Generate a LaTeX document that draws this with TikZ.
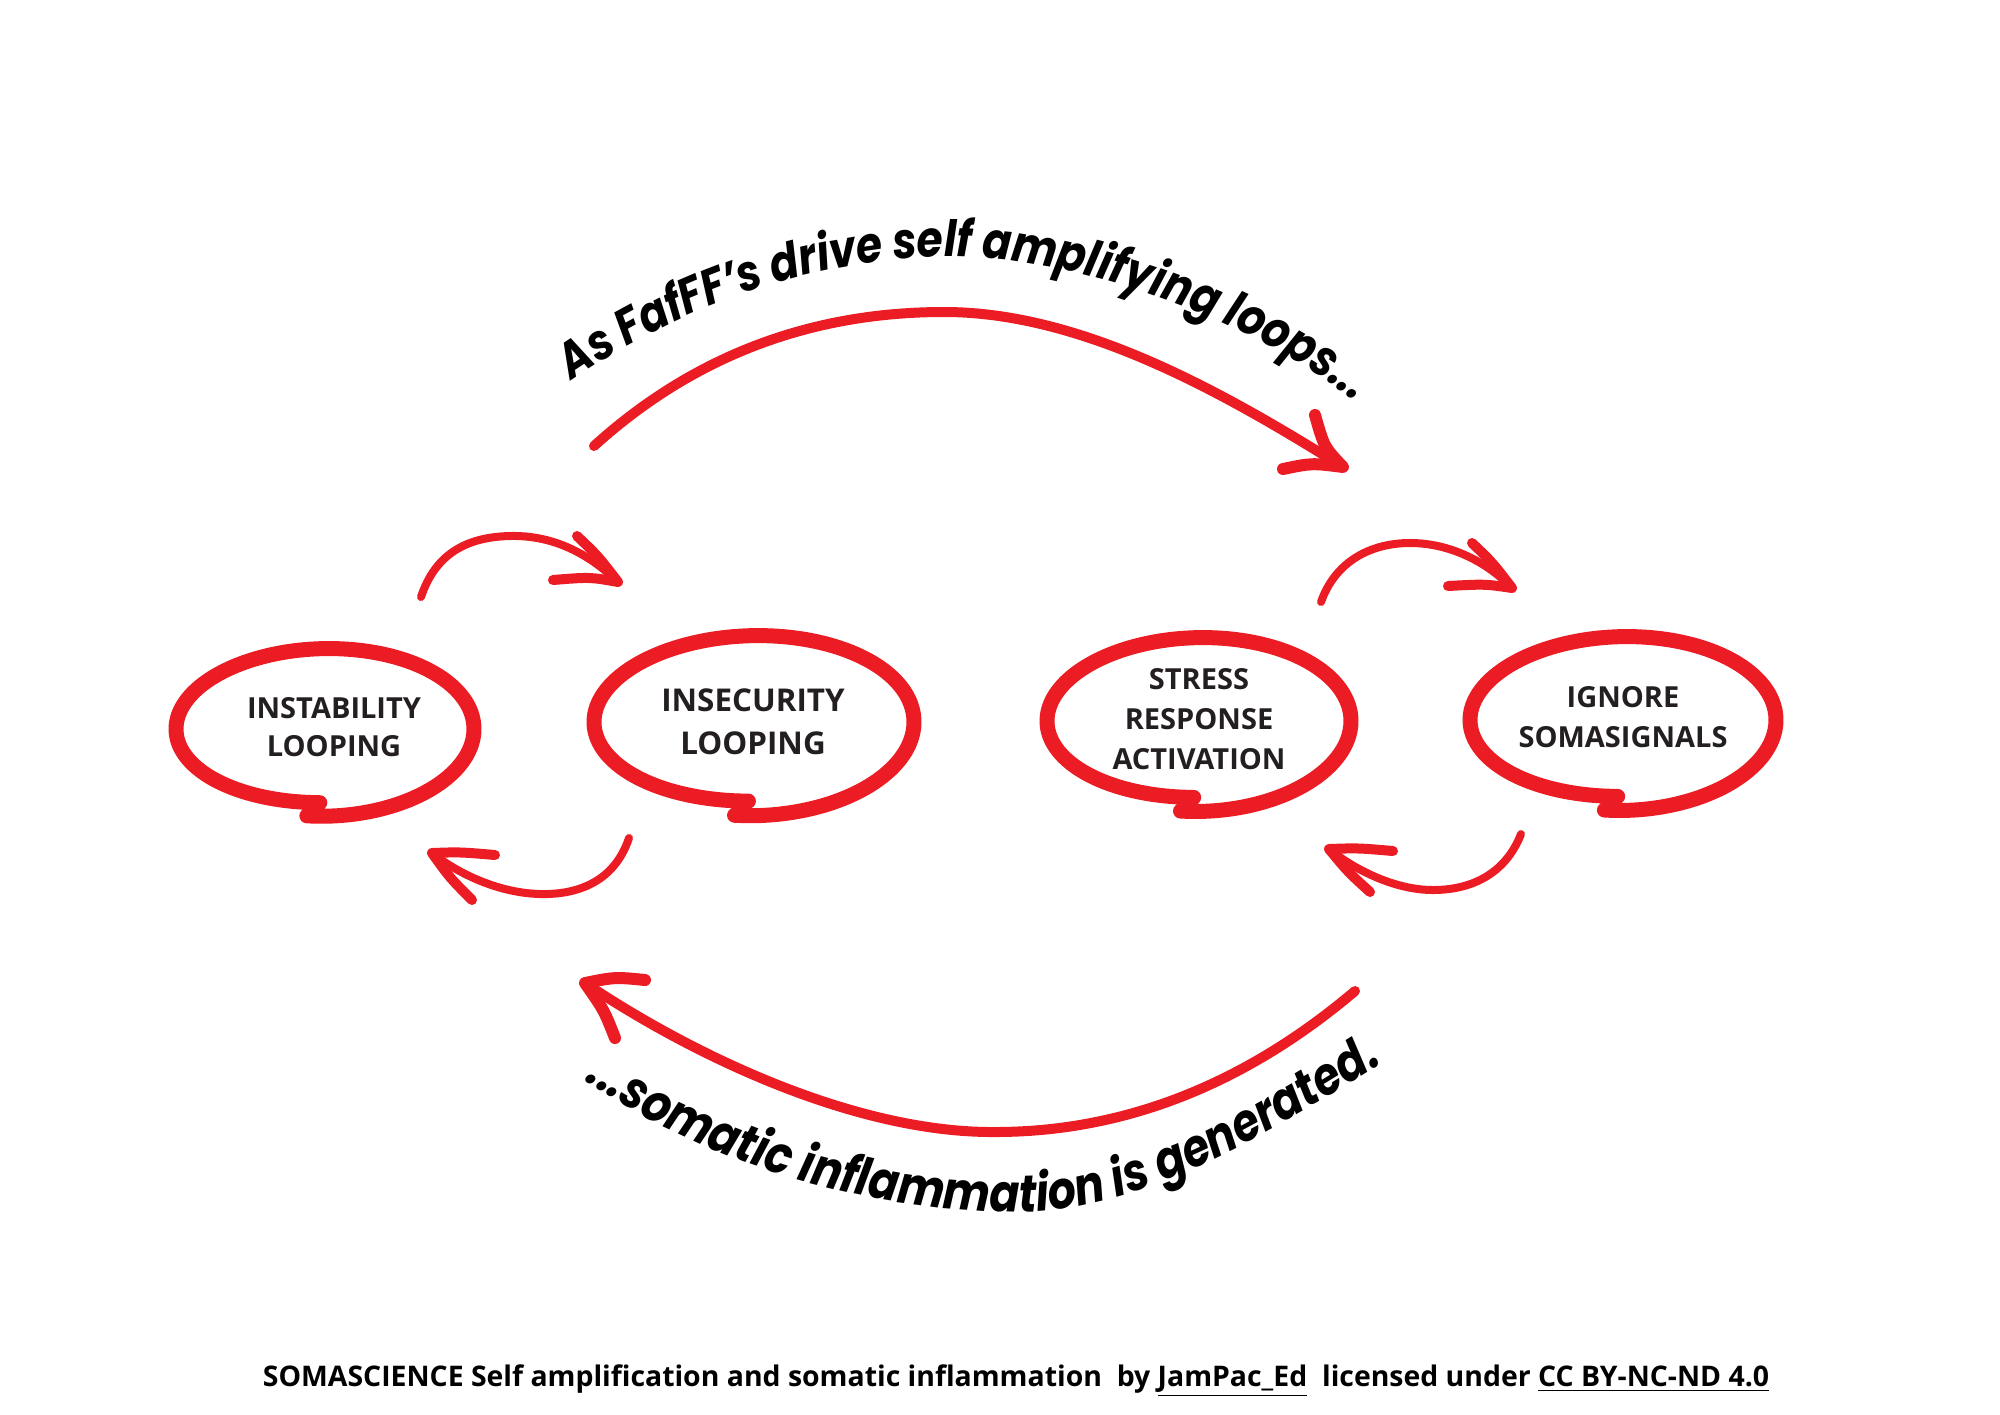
\documentclass[tikz,border=0pt]{standalone}
\usepackage{fontspec}
\setmainfont{Open Sans}
\newfontfamily\arcfont{Poppins}[FakeStretch=0.85]
\usetikzlibrary{decorations.text}
\definecolor{loopred}{RGB}{236,28,36}
\definecolor{labelgray}{RGB}{35,31,32}

\begin{document}
\begin{tikzpicture}[x=0.5pt,y=0.5pt,
	ring/.style={loopred,line width=7.5pt,line cap=round},
	bigshaft/.style={loopred,line width=5pt,line cap=round},
	smallshaft/.style={loopred,line width=4pt,line cap=round},
	bigbarb/.style={loopred,line width=6pt,line cap=round,line join=round},
	smallbarb/.style={loopred,line width=5pt,line cap=round,line join=round},
	looplabel/.style={text=labelgray,align=center,font=\bfseries\fontsize{14.5}{20}\selectfont}]
				\useasboundingbox (0,0) rectangle (2000,-1414);

				\draw[ring] plot[smooth,domain=-97:268,samples=90,variable=\t] ({325+149*cos(\t)},{-729+81*(1.08-0.17*(\t+97)/365)*sin(\t)});
				\draw[ring] plot[smooth,domain=-97:268,samples=90,variable=\t] ({754+160*cos(\t)},{-722+87*(1.08-0.17*(\t+97)/365)*sin(\t)});
				\draw[ring] plot[smooth,domain=-97:268,samples=90,variable=\t] ({1199+152*cos(\t)},{-721+84*(1.08-0.17*(\t+97)/365)*sin(\t)});
				\draw[ring] plot[smooth,domain=-97:268,samples=90,variable=\t] ({1623+153*cos(\t)},{-720+84*(1.08-0.17*(\t+97)/365)*sin(\t)});

				\node[looplabel,font=\bfseries\fontsize{14.5}{19}\selectfont] (instab) at (334,-727) {INSTABILITY\\LOOPING};
				\node[looplabel,font=\bfseries\fontsize{15.7}{21.7}\selectfont] (insec) at (753,-722) {INSECURITY\\LOOPING};
				\node[looplabel] (stress) at (1199,-719) {STRESS\\RESPONSE\\ACTIVATION};
				\node[looplabel] (ignore) at (1623,-717) {IGNORE\\SOMASIGNALS};

				\coordinate (bigs) at (594,-446);
				\coordinate (bige) at (1343,-467);
				\draw[bigshaft] (bigs) .. controls (700,-350) and (820,-312) .. (944,-312) .. controls (1080,-312) and (1220,-390) .. (bige);
				\draw[bigbarb] (1283,-469) .. controls (1312,-463) .. (bige) .. controls (1324,-447) .. (1315,-415);

				\coordinate (bots) at (1355,-991);
				\coordinate (bote) at (585,-983);
				\draw[bigshaft] (bots) .. controls (1250,-1080) and (1130,-1132) .. (995,-1132) .. controls (860,-1133) and (700,-1060) .. (bote);
				\draw[bigbarb] (645,-980) .. controls (615,-977) .. (bote) .. controls (604,-1010) .. (615,-1038);

				\coordinate (s1s) at (421,-597);
				\coordinate (s1e) at (618,-582);
				\draw[smallshaft] (s1s) .. controls (435,-555) and (465,-537) .. (510,-536) .. controls (555,-535) and (590,-555) .. (s1e);
				\draw[smallbarb] (553,-580) .. controls (590,-577) .. (s1e) .. controls (598,-556) .. (577,-536);

				\coordinate (s2s) at (1321,-602);
				\coordinate (s2e) at (1512,-588);
				\draw[smallshaft] (s2s) .. controls (1335,-562) and (1370,-543) .. (1410,-543) .. controls (1450,-543) and (1487,-562) .. (s2e);
				\draw[smallbarb] (1448,-586) .. controls (1485,-584) .. (s2e) .. controls (1492,-562) .. (1472,-543);

				\coordinate (s3s) at (629,-838);
				\coordinate (s3e) at (432,-853);
				\draw[smallshaft] (s3s) .. controls (615,-880) and (580,-895) .. (540,-894) .. controls (500,-893) and (460,-875) .. (s3e);
				\draw[smallbarb] (495,-855) .. controls (460,-852) .. (s3e) .. controls (450,-878) .. (472,-900);

				\coordinate (s4s) at (1521,-834);
				\coordinate (s4e) at (1329,-849);
				\draw[smallshaft] (s4s) .. controls (1505,-875) and (1470,-890) .. (1433,-890) .. controls (1395,-890) and (1355,-870) .. (s4e);
				\draw[smallbarb] (1393,-851) .. controls (1358,-848) .. (s4e) .. controls (1348,-872) .. (1370,-892);

				\path[decorate,decoration={text along path,text align=left,
					text={|\arcfont\bfseries\itshape\fontsize{25}{30}\selectfont|As FafFF’s drive self amplifying loops...}}]
					(572,-381) .. controls (705,-288) and (852,-255) .. (960,-257) .. controls (1100,-260) and (1272,-332) .. (1366,-410);
				\path[decorate,decoration={text along path,text align=left,
					text={|\arcfont\bfseries\itshape\fontsize{26}{30}\selectfont|...somatic inflammation is generated.}}]
					(585,-1080) .. controls (700,-1160) and (860,-1212) .. (1020,-1212) .. controls (1150,-1212) and (1290,-1120) .. (1395,-1055);

				\node (credit) at (1016,-1381) {\bfseries\fontsize{14.2}{17}\selectfont SOMASCIENCE Self amplification and somatic inflammation\ \ by \underline{JamPac\_Ed}\ \ licensed under \underline{CC BY-NC-ND 4.0}};
			\end{tikzpicture}
\end{document}
